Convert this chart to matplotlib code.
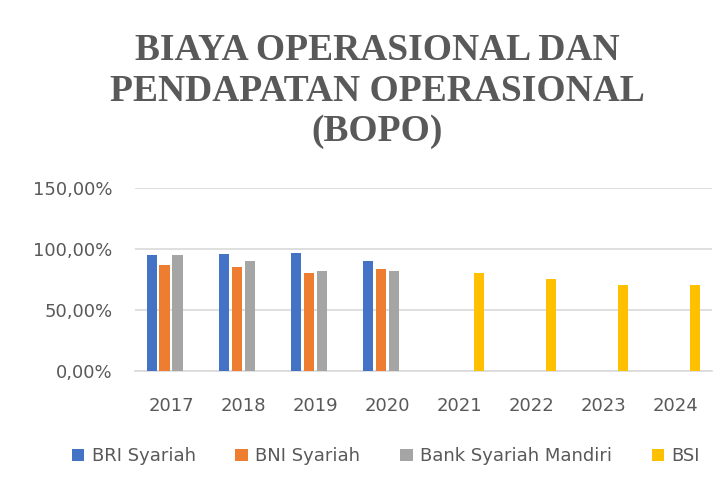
import matplotlib.pyplot as plt
import numpy as np
from matplotlib.ticker import FuncFormatter

years = ['2017', '2018', '2019', '2020', '2021', '2022', '2023', '2024']
series_names = ['BRI Syariah', 'BNI Syariah', 'Bank Syariah Mandiri', 'BSI']
bri = [0.952, 0.953, 0.968, 0.901, np.nan, np.nan, np.nan, np.nan]
bni = [0.866, 0.852, 0.801, 0.834, np.nan, np.nan, np.nan, np.nan]
bsm = [0.948, 0.899, 0.819, 0.818, np.nan, np.nan, np.nan, np.nan]
bsi = [np.nan, np.nan, np.nan, np.nan, 0.802, 0.752, 0.704, 0.704]
colors = ['#4472C4', '#ED7D31', '#A5A5A5', '#FFC000']

txt = '#595959'
fig = plt.figure(figsize=(7.28, 4.88), dpi=100)
ax = fig.add_axes([0.1854, 0.2404, 0.7926, 0.375])

x = np.arange(len(years))
slot = 0.18
width = 0.14
for i, (vals, name, c) in enumerate(zip([bri, bni, bsm, bsi], series_names, colors)):
    ax.bar(x + (i - 1.5) * slot, vals, width, color=c, label=name, zorder=3)

ax.set_ylim(0, 1.5)
ax.set_xlim(-0.5, len(years) - 0.5)
ax.set_yticks([0, 0.5, 1.0, 1.5])
ax.yaxis.set_major_formatter(FuncFormatter(lambda v, p: f'{v*100:.2f}%'.replace('.', ',')))
ax.set_xticks(x)
ax.set_xticklabels(years)
ax.grid(axis='y', color='#d9d9d9', linewidth=1.2, zorder=0)
for s in ['top', 'right', 'left']:
    ax.spines[s].set_visible(False)
ax.spines['bottom'].set_color('#d9d9d9')
ax.spines['bottom'].set_linewidth(1.2)
ax.tick_params(length=0, labelsize=13, labelcolor=txt)
ax.tick_params(axis='x', pad=19)
ax.tick_params(axis='y', pad=16)

fig.text(0.518, 0.813, 'BIAYA OPERASIONAL DAN\nPENDAPATAN OPERASIONAL\n(BOPO)',
         ha='center', va='center', family='Liberation Serif', fontweight='bold',
         fontsize=27, color=txt, linespacing=1.2)

fig.legend(loc='center', bbox_to_anchor=(0.53, 0.065), ncol=4, frameon=False,
           fontsize=13, labelcolor=txt, handlelength=0.7, handleheight=0.7,
           columnspacing=2.2, handletextpad=0.4)

fig.savefig('out.png', dpi=100)
